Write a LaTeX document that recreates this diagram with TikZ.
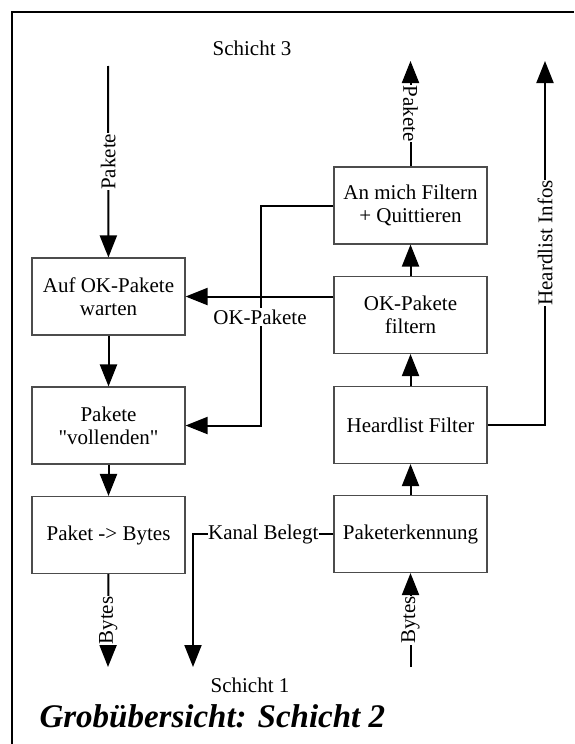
\documentclass[tikz,border=0pt]{standalone}
\usepackage{fontspec}
\setmainfont{Liberation Serif}[Ligatures=TeXOff]
\usetikzlibrary{arrows.meta}

\tikzset{
  box/.style={draw=black!70, line width=1.1pt, minimum width=153pt, minimum height=77pt, align=center, inner sep=2pt},
  arr/.style={line width=2pt, -{Triangle[length=22pt,width=17pt]}},
  lbl/.style={fill=white, inner sep=0.6pt},
}

\begin{document}
\begin{tikzpicture}[x=1pt, y=-1pt, font=\fontsize{21}{23}\selectfont]
        \useasboundingbox (0,0) rectangle (574,744);

        % frame
        \draw[line width=1.3pt] (12,744) -- (12,12) -- (574,12);

        % left column
        \node[box] (warten) at (108.5,296.5) {Auf OK-Pakete\\warten};
        \node[box] (vollenden) at (108.5,425.5) {Pakete\\"vollenden"};
        \node[box] (tobytes) at (108.5,535) {Paket -> Bytes};

        % right column
        \node[box] (quitt) at (410.5,205.5) {An mich Filtern\\+ Quittieren};
        \node[box] (okfilter) at (410.5,315) {OK-Pakete\\filtern};
        \node[box] (heard) at (410.5,425) {Heardlist Filter};
        \node[box] (erkennung) at (410.5,534) {Paketerkennung};

        % free ends
        \coordinate (pin) at (108,66);
        \coordinate (bout) at (108,667);
        \coordinate (bin) at (410.5,667);
        \coordinate (pout) at (410.5,61);
        \coordinate (hcorner) at (545,425);
        \coordinate (hout) at (545,61);
        \coordinate (okbend) at (261,0);
        \coordinate (kanal) at (193,534);
        \coordinate (kout) at (193,667);

        % Arrows
        \draw[arr] (pin) -- node[lbl, rotate=90] {Pakete} (warten);
        \draw[arr] (warten) -- (vollenden);
        \draw[arr] (vollenden) -- (tobytes);
        \draw[arr] (tobytes) -- node[lbl, rotate=90] {Bytes} (bout);

        \draw[arr] (bin) -- node[lbl, rotate=90] {Bytes} (erkennung);
        \draw[arr] (erkennung) -- (heard);
        \draw[arr] (heard) -- (okfilter);
        \draw[arr] (okfilter) -- (quitt);
        \draw[arr] (quitt) -- node[lbl, rotate=-90] {Pakete} (pout);
        \draw[arr] (heard.east) -- (hcorner) -- node[lbl, rotate=90] {Heardlist Infos} (hout);

        % OK-Pakete feedback
        \draw[arr] (quitt.west) -- (quitt.west -| okbend) -- (okbend |- vollenden.east) -- (vollenden.east);
        \draw[arr] (okfilter.west |- warten.east) -- (warten.east);
        \node[lbl, inner sep=2pt] (oklbl) at (260,317) {OK-Pakete};

        % Kanal Belegt
        \draw[arr] (erkennung.west) -- node[lbl] {Kanal Belegt} (kanal) -- (kout);

        % Labels
        \node (s3) at (252,48) {Schicht 3};
        \node (s1) at (250,685) {Schicht 1};
        \node[anchor=base west, font=\fontsize{33}{35}\selectfont\bfseries\itshape] (title) at (36,727) {Grobübersicht: Schicht 2};
    \end{tikzpicture}
\end{document}
